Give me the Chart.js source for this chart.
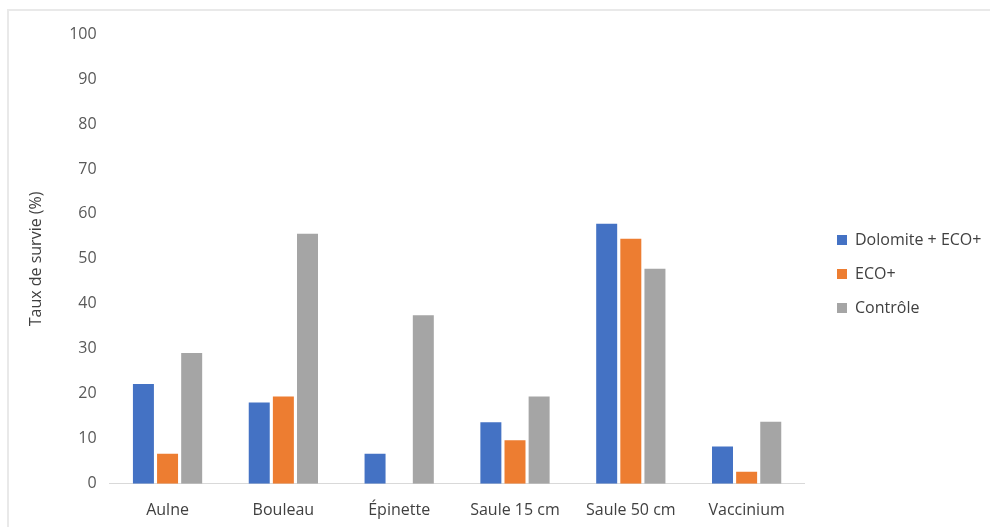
<!DOCTYPE html>
<html>
<head>
<meta charset="utf-8">
<script src="https://cdn.jsdelivr.net/npm/chart.js@4/dist/chart.umd.min.js"></script>
<style>
  body { margin: 0; background: #fff; }
  #wrap { position: relative; width: 990px; height: 527px; overflow: hidden; background: #fff; }
  #cadre { position: absolute; left: 7px; top: 9px; width: 1000px; height: 600px;
           border-top: 2px solid #e9e9e9; border-left: 2px solid #e9e9e9; }
  #grafico { position: absolute; left: 0; top: 0; }
</style>
</head>
<body>
<div id="wrap">
  <div id="cadre"></div>
  <canvas id="grafico" width="990" height="527"></canvas>
</div>
<script>
// données (taux de survie, %)
const especes = ["Aulne", "Bouleau", "Épinette", "Saule 15 cm", "Saule 50 cm", "Vaccinium"];
const dolomiteEco = [22.2, 18.1, 6.7, 13.7, 57.8, 8.3];
const eco = [6.7, 19.4, 0, 9.7, 54.5, 2.7];
const controle = [29.1, 55.6, 37.5, 19.4, 47.8, 13.8];

const police = "'Open Sans', sans-serif";

// place la légende comme dans Excel
const decalerLegende = {
  id: "decalerLegende",
  afterLayout(chart) {
    const lg = chart.legend;
    if (!lg) return;
    const w = lg.width;
    lg.left = 819;
    lg.right = lg.left + w;
    const h = lg.height;
    lg.top = 214;
    lg.bottom = lg.top + h;
  },
};

const ctx = document.getElementById("grafico").getContext("2d");

const grafico = new Chart(ctx, {
  type: "bar",
  data: {
    labels: especes,
    datasets: [
      { label: "Dolomite + ECO+", data: dolomiteEco, backgroundColor: "#4472C4" },
      { label: "ECO+", data: eco, backgroundColor: "#ED7D31" },
      { label: "Contrôle", data: controle, backgroundColor: "#A5A5A5" },
    ],
  },
  options: {
    responsive: false,
    animation: false,
    datasets: {
      bar: { categoryPercentage: 0.625, barPercentage: 0.87 },
    },
    layout: { padding: { left: 27, top: 34, right: 13, bottom: -2 } },
    plugins: {
      tooltip: { enabled: false },
      legend: {
        position: "right",
        align: "start",
        labels: {
          boxWidth: 10,
          boxHeight: 10,
          padding: 18,
          color: "#404040",
          font: { family: police, size: 16 },
        },
      },
    },
    scales: {
      x: {
        grid: { display: false },
        border: { display: true, color: "#d9d9d9", width: 1 },
        ticks: { color: "#404040", padding: 9, maxRotation: 0, font: { family: police, size: 16 } },
      },
      y: {
        min: 0,
        max: 100,
        grid: { display: false },
        border: { display: false },
        ticks: { stepSize: 10, color: "#595959", padding: 5, font: { family: police, size: 16 } },
        title: {
          display: true,
          text: "Taux de survie (%)",
          color: "#404040",
          padding: { top: 0, bottom: 18 },
          font: { family: police, size: 16 },
        },
      },
    },
  },
  plugins: [decalerLegende],
});
</script>
</body>
</html>
